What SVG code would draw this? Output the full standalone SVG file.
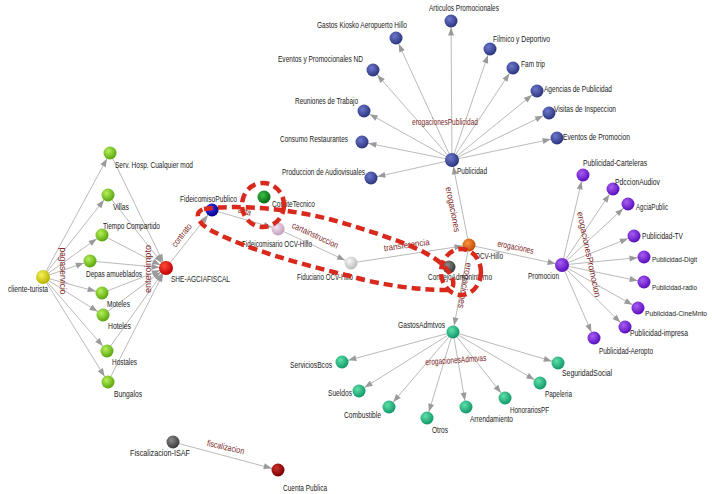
<svg xmlns="http://www.w3.org/2000/svg" width="712" height="494" viewBox="0 0 712 494">
<defs>
<style>
text{font-family:"Liberation Sans",Arial,sans-serif;font-size:9px;fill:#222}
.sm{font-size:7px}
.el{fill:#7a1f1f}
.e line{stroke:#a8a8a8;stroke-width:0.8}
.e line{marker-end:url(#ah)}
.ann{fill:none;stroke:#d9281c;stroke-width:4.5;stroke-dasharray:9,5}
</style>
<marker id="ah" viewBox="0 0 8 6" markerWidth="8" markerHeight="6" refX="14.5" refY="3" markerUnits="userSpaceOnUse" orient="auto" overflow="visible">
<path d="M0,0 L8,3 L0,6 z" fill="#9a9a9a"/>
</marker>
<radialGradient id="gLime" cx="0.38" cy="0.35" r="0.65"><stop offset="0" stop-color="#b6f05a"/><stop offset="1" stop-color="#5aa60e"/></radialGradient>
<radialGradient id="gPub" cx="0.38" cy="0.35" r="0.65"><stop offset="0" stop-color="#6c78cc"/><stop offset="1" stop-color="#2c357e"/></radialGradient>
<radialGradient id="gPur" cx="0.38" cy="0.35" r="0.65"><stop offset="0" stop-color="#a85ef2"/><stop offset="1" stop-color="#5a0fbf"/></radialGradient>
<radialGradient id="gTeal" cx="0.38" cy="0.35" r="0.65"><stop offset="0" stop-color="#5ee0a8"/><stop offset="1" stop-color="#12986a"/></radialGradient>
<radialGradient id="gYel" cx="0.38" cy="0.35" r="0.65"><stop offset="0" stop-color="#f6f25a"/><stop offset="1" stop-color="#b8b400"/></radialGradient>
<radialGradient id="gRed" cx="0.38" cy="0.35" r="0.65"><stop offset="0" stop-color="#ff4a3a"/><stop offset="1" stop-color="#c00000"/></radialGradient>
<radialGradient id="gDRed" cx="0.38" cy="0.35" r="0.65"><stop offset="0" stop-color="#c8302a"/><stop offset="1" stop-color="#7a0000"/></radialGradient>
<radialGradient id="gBlue" cx="0.38" cy="0.35" r="0.65"><stop offset="0" stop-color="#3a3aff"/><stop offset="1" stop-color="#00008a"/></radialGradient>
<radialGradient id="gDGr" cx="0.38" cy="0.35" r="0.65"><stop offset="0" stop-color="#3ac04a"/><stop offset="1" stop-color="#056a12"/></radialGradient>
<radialGradient id="gPink" cx="0.38" cy="0.35" r="0.65"><stop offset="0" stop-color="#f4e4f0"/><stop offset="1" stop-color="#c4a0bc"/></radialGradient>
<radialGradient id="gWht" cx="0.38" cy="0.35" r="0.65"><stop offset="0" stop-color="#f8f8f8"/><stop offset="1" stop-color="#bcbcbc"/></radialGradient>
<radialGradient id="gOra" cx="0.38" cy="0.35" r="0.65"><stop offset="0" stop-color="#f8923a"/><stop offset="1" stop-color="#c44c08"/></radialGradient>
<radialGradient id="gGry" cx="0.38" cy="0.35" r="0.65"><stop offset="0" stop-color="#8a8a8a"/><stop offset="1" stop-color="#3c3c3c"/></radialGradient>
</defs>
<rect width="712" height="494" fill="#fff"/>

<g id="connectors" class="e">
<line x1="43" y1="277" x2="110" y2="153"/>
<line x1="43" y1="277" x2="108" y2="195"/>
<line x1="43" y1="277" x2="102" y2="235"/>
<line x1="43" y1="277" x2="90" y2="261"/>
<line x1="43" y1="277" x2="102" y2="293"/>
<line x1="43" y1="277" x2="103" y2="315"/>
<line x1="43" y1="277" x2="107" y2="351"/>
<line x1="43" y1="277" x2="108" y2="382"/>
<line x1="110" y1="153" x2="166" y2="268"/>
<line x1="108" y1="195" x2="166" y2="268"/>
<line x1="102" y1="235" x2="166" y2="268"/>
<line x1="90" y1="261" x2="166" y2="268"/>
<line x1="102" y1="293" x2="166" y2="268"/>
<line x1="103" y1="315" x2="166" y2="268"/>
<line x1="107" y1="351" x2="166" y2="268"/>
<line x1="108" y1="382" x2="166" y2="268"/>
<line x1="166" y1="268" x2="212" y2="210"/>
<line x1="212" y1="210" x2="278" y2="229"/>
<line x1="278" y1="229" x2="351" y2="263"/>
<line x1="351" y1="263" x2="469" y2="245"/>
<line x1="469" y1="245" x2="452" y2="160"/>
<line x1="469" y1="245" x2="562" y2="265"/>
<line x1="469" y1="245" x2="453" y2="332"/>
<line x1="452" y1="160" x2="451" y2="21"/>
<line x1="452" y1="160" x2="396" y2="38"/>
<line x1="452" y1="160" x2="490" y2="49"/>
<line x1="452" y1="160" x2="513" y2="68"/>
<line x1="452" y1="160" x2="373" y2="70"/>
<line x1="452" y1="160" x2="537" y2="91"/>
<line x1="452" y1="160" x2="364" y2="111"/>
<line x1="452" y1="160" x2="549" y2="113"/>
<line x1="452" y1="160" x2="362" y2="142"/>
<line x1="452" y1="160" x2="557" y2="138"/>
<line x1="452" y1="160" x2="371" y2="178"/>
<line x1="562" y1="265" x2="583" y2="175"/>
<line x1="562" y1="265" x2="613" y2="189"/>
<line x1="562" y1="265" x2="628" y2="204"/>
<line x1="562" y1="265" x2="634" y2="236"/>
<line x1="562" y1="265" x2="644" y2="257"/>
<line x1="562" y1="265" x2="644" y2="282"/>
<line x1="562" y1="265" x2="638" y2="308"/>
<line x1="562" y1="265" x2="625" y2="327"/>
<line x1="562" y1="265" x2="594" y2="338"/>
<line x1="453" y1="332" x2="342" y2="362"/>
<line x1="453" y1="332" x2="359" y2="391"/>
<line x1="453" y1="332" x2="389" y2="407"/>
<line x1="453" y1="332" x2="427" y2="418"/>
<line x1="453" y1="332" x2="466" y2="407"/>
<line x1="453" y1="332" x2="505" y2="398"/>
<line x1="453" y1="332" x2="540" y2="383"/>
<line x1="453" y1="332" x2="558" y2="363"/>
<line x1="173" y1="442" x2="278" y2="470"/>
</g>

<g id="edge-labels">
<text class="el" transform="translate(60,271) rotate(90)" text-anchor="middle" textLength="47" lengthAdjust="spacingAndGlyphs">pagaservicio</text>
<text class="el" transform="translate(151,269) rotate(-90)" text-anchor="middle" textLength="48" lengthAdjust="spacingAndGlyphs">enteroimpto</text>
<text class="el" transform="translate(184,237) rotate(-52)" text-anchor="middle" textLength="27" lengthAdjust="spacingAndGlyphs">contrato</text>
<text class="el" transform="translate(244,214) rotate(16)" text-anchor="middle" textLength="13" lengthAdjust="spacingAndGlyphs">acta</text>
<text class="el" transform="translate(314,238) rotate(25)" text-anchor="middle" textLength="50" lengthAdjust="spacingAndGlyphs">cartainstruccion</text>
<text class="el" transform="translate(407,248) rotate(-8)" text-anchor="middle" textLength="46" lengthAdjust="spacingAndGlyphs">transferencia</text>
<text class="el" transform="translate(450,210) rotate(79)" text-anchor="middle" textLength="46" lengthAdjust="spacingAndGlyphs">erogaciones</text>
<text class="el" transform="translate(515,250) rotate(12)" text-anchor="middle" textLength="37" lengthAdjust="spacingAndGlyphs">erogaciones</text>
<text class="el" transform="translate(462,285) rotate(100)" text-anchor="middle" textLength="46" lengthAdjust="spacingAndGlyphs">erogaciones</text>
<text class="el" x="412" y="125" textLength="66" lengthAdjust="spacingAndGlyphs">erogacionesPublicidad</text>
<text class="el" transform="translate(586,255) rotate(78)" text-anchor="middle" textLength="87" lengthAdjust="spacingAndGlyphs">erogacionesPromocion</text>
<text class="el" transform="translate(456,363) rotate(-4)" text-anchor="middle" textLength="61" lengthAdjust="spacingAndGlyphs">erogacionesAdmtvas</text>
<text class="el" transform="translate(225,450) rotate(13)" text-anchor="middle" textLength="38" lengthAdjust="spacingAndGlyphs">fiscalizacion</text>
</g>

<g id="n-cliente"><circle cx="43" cy="277" r="7" fill="url(#gYel)"/><text x="8" y="292" textLength="40" lengthAdjust="spacingAndGlyphs">cliente-turista</text></g>
<g id="n-serv"><circle cx="110" cy="153" r="6.5" fill="url(#gLime)"/><text x="115" y="168" textLength="78" lengthAdjust="spacingAndGlyphs">Serv. Hosp. Cualquier mod</text></g>
<g id="n-villas"><circle cx="108" cy="195" r="6.5" fill="url(#gLime)"/><text x="113" y="210" textLength="16" lengthAdjust="spacingAndGlyphs">Villas</text></g>
<g id="n-tiempo"><circle cx="102" cy="235" r="6.5" fill="url(#gLime)"/><text x="103" y="229" textLength="57" lengthAdjust="spacingAndGlyphs">Tiempo Compartido</text></g>
<g id="n-depas"><circle cx="90" cy="261" r="6.5" fill="url(#gLime)"/><text x="86" y="277" textLength="56" lengthAdjust="spacingAndGlyphs">Depas amueblados</text></g>
<g id="n-moteles"><circle cx="102" cy="293" r="6.5" fill="url(#gLime)"/><text x="107" y="307" textLength="23" lengthAdjust="spacingAndGlyphs">Moteles</text></g>
<g id="n-hoteles"><circle cx="103" cy="315" r="6.5" fill="url(#gLime)"/><text x="108" y="329" textLength="23" lengthAdjust="spacingAndGlyphs">Hoteles</text></g>
<g id="n-hostales"><circle cx="107" cy="351" r="6.5" fill="url(#gLime)"/><text x="112" y="365" textLength="25" lengthAdjust="spacingAndGlyphs">Hostales</text></g>
<g id="n-bungalos"><circle cx="108" cy="382" r="6.5" fill="url(#gLime)"/><text x="114" y="397" textLength="28" lengthAdjust="spacingAndGlyphs">Bungalos</text></g>
<g id="n-she"><circle cx="166" cy="268" r="7" fill="url(#gRed)"/><text x="171" y="282" textLength="59" lengthAdjust="spacingAndGlyphs">SHE-AGCIAFISCAL</text></g>
<g id="n-fideicomiso"><circle cx="212" cy="210" r="6.5" fill="url(#gBlue)"/><text x="180" y="202" textLength="57" lengthAdjust="spacingAndGlyphs">FideicomisoPublico</text></g>
<g id="n-comite"><circle cx="264" cy="197" r="6.5" fill="url(#gDGr)"/><text x="272" y="207" textLength="43" lengthAdjust="spacingAndGlyphs">ComiteTecnico</text></g>
<g id="n-fideicomisario"><circle cx="278" cy="229" r="6.5" fill="url(#gPink)"/><text x="242" y="247" textLength="70" lengthAdjust="spacingAndGlyphs">Fideicomisario OCV-Hillo</text></g>
<g id="n-fiduciario"><circle cx="351" cy="263" r="6.5" fill="url(#gWht)"/><text x="297" y="280" textLength="56" lengthAdjust="spacingAndGlyphs">Fiduciario OCV-Hillo</text></g>
<g id="n-ocv"><circle cx="469" cy="245" r="6.5" fill="url(#gOra)"/><text x="475" y="259" textLength="28" lengthAdjust="spacingAndGlyphs">OCV-Hillo</text></g>
<g id="n-consejo"><circle cx="449" cy="267" r="6.5" fill="url(#gGry)"/><text x="428" y="280" textLength="64" lengthAdjust="spacingAndGlyphs">ConsejoAdmonInterno</text></g>
<g id="n-promocion"><circle cx="562" cy="265" r="7" fill="url(#gPur)"/><text x="528" y="279" textLength="31" lengthAdjust="spacingAndGlyphs">Promocion</text></g>
<g id="n-gastos"><circle cx="453" cy="332" r="6.5" fill="url(#gTeal)"/><text x="398" y="328" textLength="47" lengthAdjust="spacingAndGlyphs">GastosAdmtvos</text></g>
<g id="n-publicidad"><circle cx="452" cy="160" r="7" fill="url(#gPub)"/><text x="457" y="174" textLength="30" lengthAdjust="spacingAndGlyphs">Publicidad</text></g>

<g id="n-articulos"><circle cx="451" cy="21" r="6.5" fill="url(#gPub)"/><text x="429" y="11" textLength="70" lengthAdjust="spacingAndGlyphs">Articulos Promocionales</text></g>
<g id="n-kiosko"><circle cx="396" cy="38" r="6.5" fill="url(#gPub)"/><text x="317" y="28" textLength="90" lengthAdjust="spacingAndGlyphs">Gastos Kiosko Aeropuerto Hillo</text></g>
<g id="n-filmico"><circle cx="490" cy="49" r="6.5" fill="url(#gPub)"/><text x="493" y="42" textLength="57" lengthAdjust="spacingAndGlyphs">Filmico y Deportivo</text></g>
<g id="n-famtrip"><circle cx="513" cy="68" r="6.5" fill="url(#gPub)"/><text x="521" y="67" textLength="24" lengthAdjust="spacingAndGlyphs">Fam trip</text></g>
<g id="n-eventosnd"><circle cx="373" cy="70" r="6.5" fill="url(#gPub)"/><text x="278" y="62" textLength="85" lengthAdjust="spacingAndGlyphs">Eventos y Promocionales ND</text></g>
<g id="n-agencias"><circle cx="537" cy="91" r="6.5" fill="url(#gPub)"/><text x="544" y="92" textLength="68" lengthAdjust="spacingAndGlyphs">Agencias de Publicidad</text></g>
<g id="n-reuniones"><circle cx="364" cy="111" r="6.5" fill="url(#gPub)"/><text x="295" y="104" textLength="63" lengthAdjust="spacingAndGlyphs">Reuniones de Trabajo</text></g>
<g id="n-visitas"><circle cx="549" cy="113" r="6.5" fill="url(#gPub)"/><text x="554" y="112" textLength="62" lengthAdjust="spacingAndGlyphs">Visitas de Inspeccion</text></g>
<g id="n-consumo"><circle cx="362" cy="142" r="6.5" fill="url(#gPub)"/><text x="280" y="142" textLength="68" lengthAdjust="spacingAndGlyphs">Consumo Restaurantes</text></g>
<g id="n-eventospromo"><circle cx="557" cy="138" r="6.5" fill="url(#gPub)"/><text x="563" y="140" textLength="67" lengthAdjust="spacingAndGlyphs">Eventos de Promocion</text></g>
<g id="n-produccion"><circle cx="371" cy="178" r="6.5" fill="url(#gPub)"/><text x="282" y="175" textLength="83" lengthAdjust="spacingAndGlyphs">Produccion de Audiovisuales</text></g>

<g id="n-carteleras"><circle cx="583" cy="175" r="6.5" fill="url(#gPur)"/><text x="583" y="166" textLength="64" lengthAdjust="spacingAndGlyphs">Publicidad-Carteleras</text></g>
<g id="n-pdccion"><circle cx="613" cy="189" r="6.5" fill="url(#gPur)"/><text x="615" y="185" textLength="45" lengthAdjust="spacingAndGlyphs">PdccionAudiov</text></g>
<g id="n-agcia"><circle cx="628" cy="204" r="6.5" fill="url(#gPur)"/><text x="636" y="210" textLength="32" lengthAdjust="spacingAndGlyphs">AgciaPublic</text></g>
<g id="n-tv"><circle cx="634" cy="236" r="6.5" fill="url(#gPur)"/><text x="642" y="239" textLength="41" lengthAdjust="spacingAndGlyphs">Publicidad-TV</text></g>
<g id="n-digit"><circle cx="644" cy="257" r="6.5" fill="url(#gPur)"/><text class="sm" x="652" y="262" textLength="45" lengthAdjust="spacingAndGlyphs">Publicidad-Digit</text></g>
<g id="n-radio"><circle cx="644" cy="282" r="6.5" fill="url(#gPur)"/><text class="sm" x="652" y="290" textLength="45" lengthAdjust="spacingAndGlyphs">Publicidad-radio</text></g>
<g id="n-cine"><circle cx="638" cy="308" r="6.5" fill="url(#gPur)"/><text class="sm" x="645" y="316" textLength="62" lengthAdjust="spacingAndGlyphs">Publicidad-CineMnto</text></g>
<g id="n-impresa"><circle cx="625" cy="327" r="6.5" fill="url(#gPur)"/><text x="630" y="336" textLength="58" lengthAdjust="spacingAndGlyphs">Publicidad-impresa</text></g>
<g id="n-aeropto"><circle cx="594" cy="338" r="6.5" fill="url(#gPur)"/><text x="599" y="354" textLength="54" lengthAdjust="spacingAndGlyphs">Publicidad-Aeropto</text></g>

<g id="n-bcos"><circle cx="342" cy="362" r="6.5" fill="url(#gTeal)"/><text x="290" y="368" textLength="42" lengthAdjust="spacingAndGlyphs">ServiciosBcos</text></g>
<g id="n-sueldos"><circle cx="359" cy="391" r="6.5" fill="url(#gTeal)"/><text x="328" y="396" textLength="24" lengthAdjust="spacingAndGlyphs">Sueldos</text></g>
<g id="n-combustible"><circle cx="389" cy="407" r="6.5" fill="url(#gTeal)"/><text x="344" y="418" textLength="37" lengthAdjust="spacingAndGlyphs">Combustible</text></g>
<g id="n-otros"><circle cx="427" cy="418" r="6.5" fill="url(#gTeal)"/><text x="432" y="433" textLength="16" lengthAdjust="spacingAndGlyphs">Otros</text></g>
<g id="n-arrend"><circle cx="466" cy="407" r="6.5" fill="url(#gTeal)"/><text x="470" y="422" textLength="43" lengthAdjust="spacingAndGlyphs">Arrendamiento</text></g>
<g id="n-honorarios"><circle cx="505" cy="398" r="6.5" fill="url(#gTeal)"/><text x="510" y="413" textLength="39" lengthAdjust="spacingAndGlyphs">HonorariosPF</text></g>
<g id="n-papeleria"><circle cx="540" cy="383" r="6.5" fill="url(#gTeal)"/><text x="545" y="397" textLength="27" lengthAdjust="spacingAndGlyphs">Papeleria</text></g>
<g id="n-seguridad"><circle cx="558" cy="363" r="6.5" fill="url(#gTeal)"/><text x="562" y="376" textLength="50" lengthAdjust="spacingAndGlyphs">SeguridadSocial</text></g>

<g id="n-isaf"><circle cx="173" cy="442" r="6.5" fill="url(#gGry)"/><text x="130" y="456" textLength="60" lengthAdjust="spacingAndGlyphs">Fiscalizacion-ISAF</text></g>
<g id="n-cuenta"><circle cx="278" cy="470" r="6.5" fill="url(#gDRed)"/><text x="283" y="491" textLength="44" lengthAdjust="spacingAndGlyphs">Cuenta Publica</text></g>

<g id="annotations">
<path class="ann" d="M204,209 C240,204 295,209 340,222 C382,235 425,248 443,265 C455,277 458,291 444,290 C420,290 380,285 350,276 C300,264 250,250 214,232 C197,224 193,212 204,209 Z"/>
<ellipse class="ann" cx="263" cy="205" rx="21" ry="22"/>
<ellipse class="ann" cx="461" cy="272" rx="20" ry="23"/>
</g>
</svg>
